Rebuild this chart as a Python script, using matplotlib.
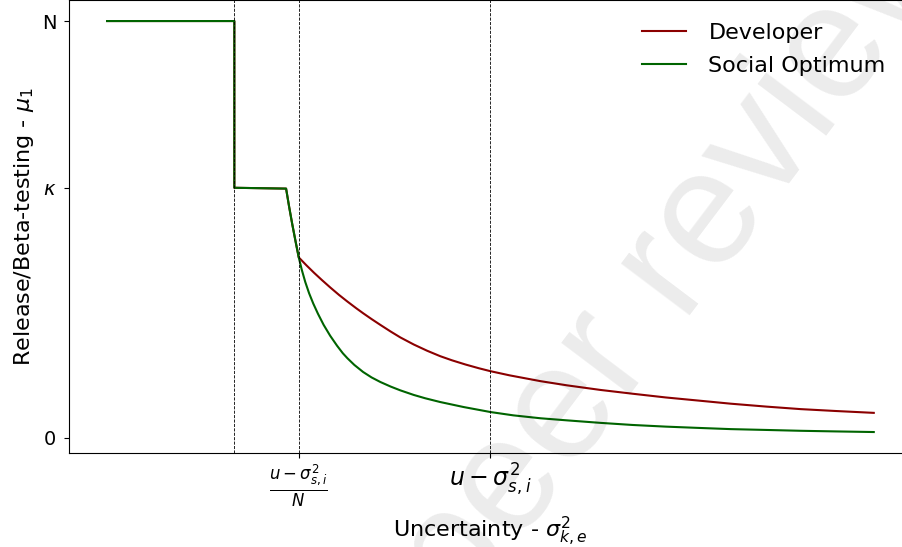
"""
Release/beta-testing level mu_1 against uncertainty: developer choice vs
social optimum (schematic, values read off the reference figure).
"""
import matplotlib
matplotlib.use('Agg')
import matplotlib.pyplot as plt

# shared step part (N, then kappa) followed by the two decreasing branches
step_x = [0.0, 3.32, 3.32, 4.67, 4.75, 4.83, 4.92]
step_y = [10.0, 10.0, 6.0, 5.98, 5.54, 5.13, 4.70]

dev_x = [5.0, 5.2, 5.4, 5.6, 5.82, 6.05, 6.27, 6.5, 6.68, 6.9, 7.13, 7.4,
         7.65, 8.0, 8.35, 8.69, 9.0, 9.35, 9.7, 10.0, 10.5, 11.31, 12.0,
         12.87, 13.7, 14.57, 15.48, 16.27, 17.2, 18.09, 19.0, 20.0]
dev_y = [4.33, 4.14, 3.96, 3.79, 3.61, 3.43, 3.27, 3.11, 2.99, 2.85, 2.71,
         2.55, 2.41, 2.24, 2.09, 1.96, 1.86, 1.76, 1.67, 1.60, 1.50, 1.36,
         1.26, 1.15, 1.06, 0.97, 0.89, 0.82, 0.75, 0.69, 0.645, 0.60]

soc_x = [5.0, 5.08, 5.17, 5.27, 5.38, 5.5, 5.65, 5.82, 6.0, 6.15, 6.27,
         6.45, 6.68, 6.9, 7.13, 7.4, 7.65, 8.0, 8.3, 8.69, 9.3, 10.0, 10.6,
         11.31, 12.0, 12.87, 13.7, 14.57, 15.4, 16.27, 17.2, 18.09, 19.0, 20.0]
soc_y = [4.33, 4.03, 3.74, 3.47, 3.22, 2.98, 2.71, 2.45, 2.21, 2.03, 1.91,
         1.75, 1.58, 1.45, 1.34, 1.23, 1.14, 1.03, 0.95, 0.86, 0.74, 0.62,
         0.54, 0.47, 0.42, 0.36, 0.31, 0.27, 0.24, 0.21, 0.19, 0.17, 0.155, 0.14]

# thresholds (dashed verticals) and axis ticks
thresholds = [3.32, 5.0, 10.0]
xtick_pos = [5.0, 10.0]
xtick_lbl = [r'$\frac{u-\sigma^2_{s,i}}{N}$', r'$u-\sigma^2_{s,i}$']
ytick_pos = [0.0, 6.0, 10.0]
ytick_lbl = ['0', r'$\kappa$', 'N']

fig = plt.figure(figsize=(9.02, 5.47), dpi=100)
ax = fig.add_axes([0.0762, 0.1726, 0.935, 0.8265])

ax.plot(step_x + dev_x, step_y + dev_y, color='darkred', lw=1.5, label='Developer')
ax.plot(step_x + soc_x, step_y + soc_y, color='darkgreen', lw=1.5, label='Social Optimum')

for t in thresholds:
    ax.axvline(t, color='k', ls='--', lw=0.6)

ax.set_xticks(xtick_pos)
ax.set_xticklabels(xtick_lbl, fontsize=17)
ax.set_yticks(ytick_pos)
ax.set_yticklabels(ytick_lbl, fontsize=14)
ax.tick_params(axis='y', pad=5.5)

ax.set_xlabel(r'Uncertainty - $\sigma^2_{k,e}$', fontsize=16)
ax.set_ylabel(r'Release/Beta-testing - $\mu_1$', fontsize=16)
ax.legend(loc='upper right', frameon=False, fontsize=16, labelspacing=0.6,
          handletextpad=1.0, borderaxespad=0.6, bbox_to_anchor=(0.995, 1.0))

# faint diagonal watermark over the figure
fig.text(0.511, -0.132, 'peer review', rotation=53, rotation_mode='anchor',
         ha='left', va='baseline', fontsize=117, family='Liberation Sans',
         color='k', alpha=0.08)

fig.savefig('out.png', dpi=100)
